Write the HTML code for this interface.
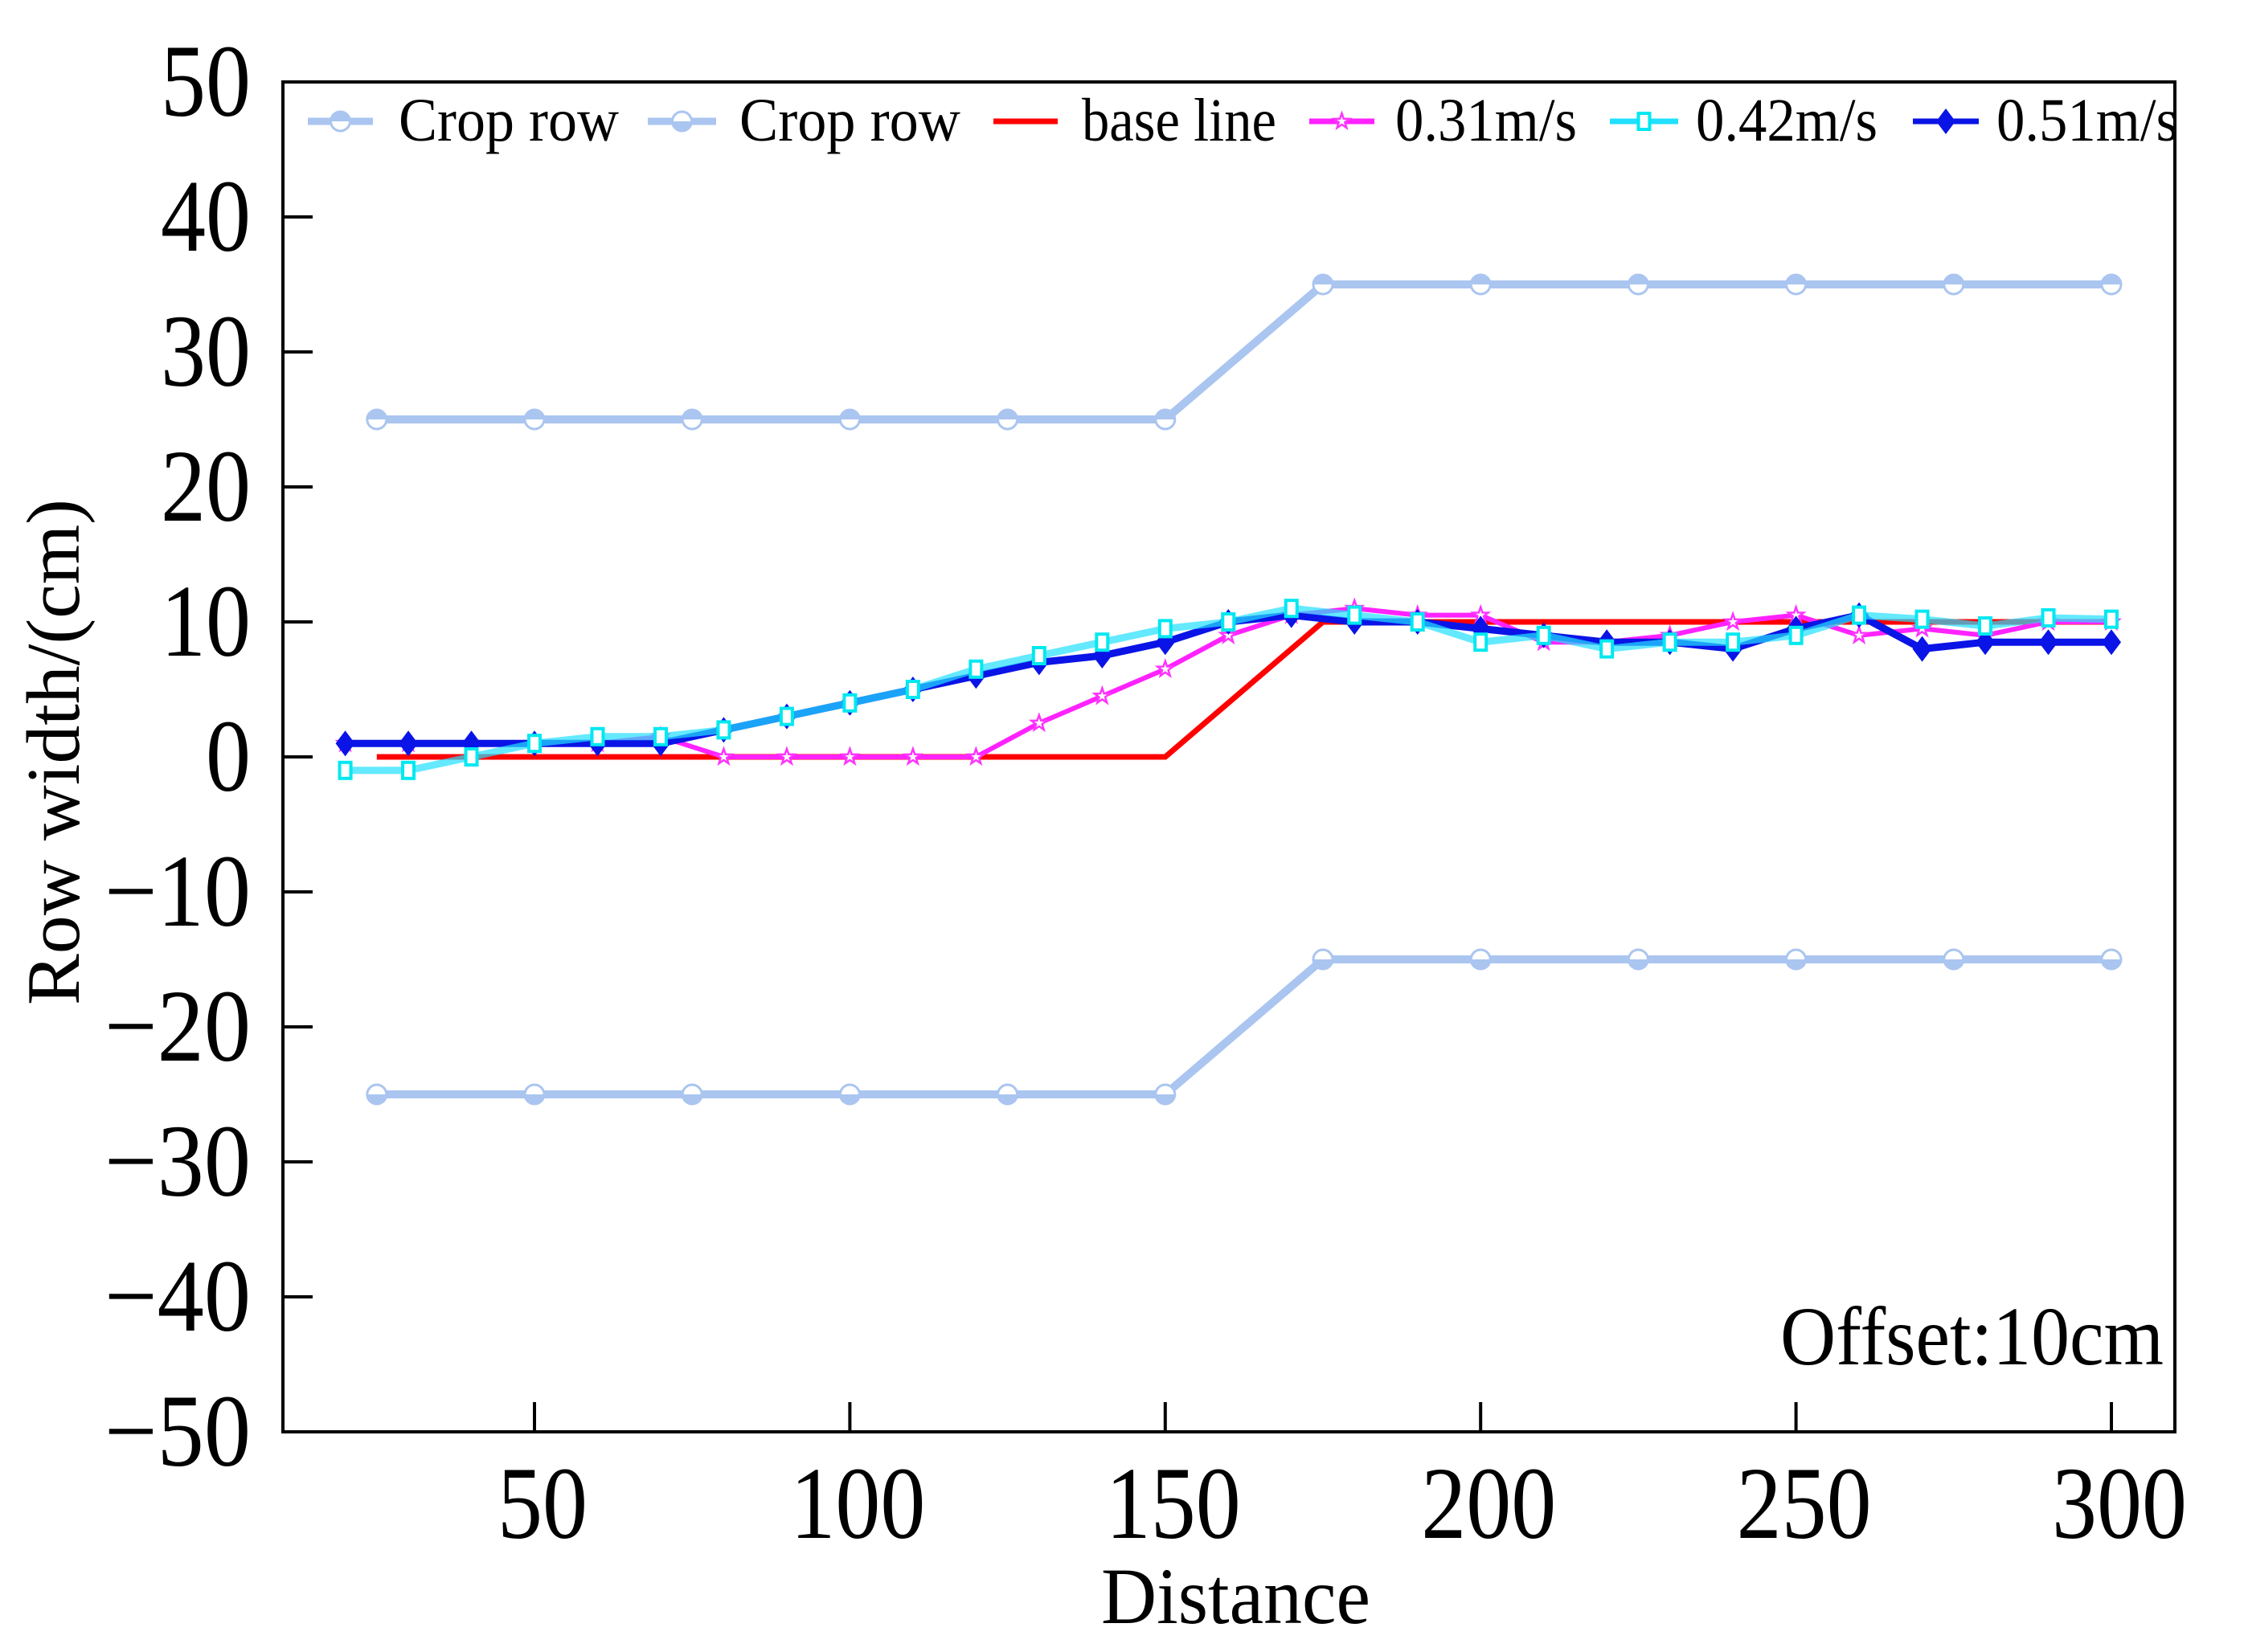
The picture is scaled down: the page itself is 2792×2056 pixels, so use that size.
<!DOCTYPE html>
<html><head><meta charset="utf-8"><style>
html,body{margin:0;padding:0;background:#fff;}
svg{display:block;font-family:"Liberation Serif",serif;}
</style></head><body>
<svg id="chart" width="2792" height="2056" viewBox="0 0 2792 2056" xmlns="http://www.w3.org/2000/svg">
<g id="series"></g>
<rect x="352" y="102" width="2354" height="1680" fill="none" stroke="#000" stroke-width="4"/>
<g id="axes"></g>
<text transform="translate(98,936) rotate(-90)" text-anchor="middle" font-size="94" textLength="630" lengthAdjust="spacingAndGlyphs">Row width/(cm)</text>
<text x="1370" y="2020" font-size="100" textLength="335" lengthAdjust="spacingAndGlyphs">Distance</text>
<text x="2215" y="1698" font-size="104" textLength="477" lengthAdjust="spacingAndGlyphs">Offset:10cm</text>
<g id="legend"></g>
</svg>
<script>
const xDist = [20,30,40,50,60,70,80,90,100,110,120,130,140,150,160,170,180,190,200,210,220,230,240,250,260,270,280,290,300];
const cropX = [25,50,75,100,125,150,175,200,225,250,275,300];
const cropUpper = [25,25,25,25,25,25,35,35,35,35,35,35];
const cropLower = [-25,-25,-25,-25,-25,-25,-15,-15,-15,-15,-15,-15];
const baseX = [25,150,175,300];
const baseY = [0,0,10,10];
const v031 = [1,1,1,1,1,1.5,0,0,0,0,0,2.5,4.5,6.5,9,10.5,11,10.5,10.5,8.5,8.5,9,10,10.5,9,9.5,9,10,10];
const v042 = [-1,-1,0,1,1.5,1.5,2,3,4,5,6.5,7.5,8.5,9.5,10,11,10.5,10,8.5,9,8,8.5,8.5,9,10.5,10.2,9.7,10.3,10.2];
const v051 = [1,1,1,1,1,1,2,3,4,5,6,7,7.5,8.5,10,10.5,10,10,9.5,9,8.5,8.5,8,9.5,10.5,8,8.5,8.5,8.5];
const xTicks = [50,100,150,200,250,300];
const yTicks = [50,40,30,20,10,0,-10,-20,-30,-40,-50];
const yTickLabels = ["50","40","30","20","10","0","\u221210","\u221220","\u221230","\u221240","\u221250"];
const legendLabels = ["Crop row","Crop row","base line","0.31m/s","0.42m/s","0.51m/s"];

const NS="http://www.w3.org/2000/svg";
const X = v => 272.6 + v*7.848;
const Y = v => 942 - v*16.8;
function mk(tag, attrs, parent){const e=document.createElementNS(NS,tag);for(const k in attrs)e.setAttribute(k,attrs[k]);parent.appendChild(e);return e;}
const axes=document.getElementById('axes'), series=document.getElementById('series'), legend=document.getElementById('legend');
function labW(s){let w=0;for(const c of s)w+=(c==='\u2212'?70:56);return w;}

xTicks.forEach((t,i)=>{
  const l=mk('line',{x1:X(t),x2:X(t),y1:1782,y2:1745,stroke:'#000','stroke-width':4},axes);
  
  
  const s=String(t), w=labW(s);
  const tx=mk('text',{x:X(t)+10-w/2,y:1914,'font-size':128,textLength:w,lengthAdjust:'spacingAndGlyphs'},axes);
  tx.textContent=s;
  
  
});
yTicks.forEach((t,i)=>{
  const l=mk('line',{x1:352,x2:389,y1:Y(t),y2:Y(t),stroke:'#000','stroke-width':4},axes);
  
  
  const s=yTickLabels[i], w=labW(s);
  const tx=mk('text',{x:312-w,y:Y(t)+42,'font-size':128,textLength:w,lengthAdjust:'spacingAndGlyphs'},axes);
  tx.textContent=s;
  
  
});

function pts(xs,ys){return xs.map((x,i)=>X(x)+','+Y(ys[i])).join(' ');}
const CROP='#aac5f0';
function circleMarker(cx,cy,g,flip){
  mk('circle',{cx:cx,cy:cy,r:12,fill:'#fff',stroke:CROP,'stroke-width':3},g);
  const d = flip ? `M${cx-12},${cy} A12,12 0 0 0 ${cx+12},${cy} Z` : `M${cx-12},${cy} A12,12 0 0 1 ${cx+12},${cy} Z`;
  mk('path',{d:d,fill:CROP},g);
}
function diamond(cx,cy,g,c){mk('polygon',{points:`${cx},${cy-16} ${cx+12},${cy} ${cx},${cy+16} ${cx-12},${cy}`,fill:c},g);}
function square(cx,cy,g){mk('rect',{x:cx-7,y:cy-10,width:14,height:20,fill:'#fff',stroke:'#00e8f0','stroke-width':4},g);}
function star(cx,cy,g){
  let p=[];for(let k=0;k<10;k++){const r=k%2?4:10;const a=-Math.PI/2+k*Math.PI/5;p.push((cx+r*Math.cos(a))+','+(cy+r*Math.sin(a)));}
  mk('polygon',{points:p.join(' '),fill:'#fff',stroke:'#ff33ff','stroke-width':2.5},g);
}

[[cropUpper,'crop-row-upper',false],[cropLower,'crop-row-lower',true]].forEach(([ys,name,flip])=>{
  const g=mk('g',{},series);
  
  
  mk('polyline',{points:pts(cropX,ys),fill:'none',stroke:CROP,'stroke-width':10,'stroke-linejoin':'round'},g);
  cropX.forEach((x,i)=>circleMarker(X(x),Y(ys[i]),g,flip));
});
{const g=mk('g',{},series);


mk('polyline',{points:pts(baseX,baseY),fill:'none',stroke:'#ff0000','stroke-width':7},g);}
{const g=mk('g',{},series);


mk('polyline',{points:pts(xDist,v031),fill:'none',stroke:'#ff22ff','stroke-width':6},g);
xDist.forEach((x,i)=>star(X(x),Y(v031[i]),g));}
{const g=mk('g',{},series);


mk('polyline',{points:pts(xDist,v051),fill:'none',stroke:'#0a14e6','stroke-width':9},g);
xDist.forEach((x,i)=>diamond(X(x),Y(v051[i]),g,'#0a14e6'));}
{const g=mk('g',{},series);


mk('polyline',{points:pts(xDist,v042),fill:'none',stroke:'#22e0ff','stroke-width':9,'stroke-opacity':0.7},g);
xDist.forEach((x,i)=>square(X(x),Y(v042[i]),g));}

const lgLine=[[383,464],[806,891],[1236,1316],[1629,1710],[2003,2088],[2380,2462]];
const lgText=[[496,274],[920,275],[1346,242],[1736,226],[2110,226],[2484,226]];
const lgCol=[CROP,CROP,'#ff0000','#ff22ff','#22e0ff','#0a14e6'];
const ly=151;
legendLabels.forEach((lab,i)=>{
  const g=mk('g',{},legend);
  
  
  mk('line',{x1:lgLine[i][0],x2:lgLine[i][1],y1:ly,y2:ly,stroke:lgCol[i],'stroke-width':i<2?9:7},g);
  const cx=(lgLine[i][0]+lgLine[i][1])/2;
  if(i===0)circleMarker(cx,ly,g,false);
  if(i===1)circleMarker(cx,ly,g,true);
  if(i===3)star(cx,ly,g);
  if(i===4)square(cx,ly,g);
  if(i===5)diamond(cx,ly,g,'#0a14e6');
  const t=mk('text',{x:lgText[i][0],y:ly+24,'font-size':76,textLength:lgText[i][1],lengthAdjust:'spacingAndGlyphs'},g);
  t.textContent=lab;
});
</script>
</body></html>
